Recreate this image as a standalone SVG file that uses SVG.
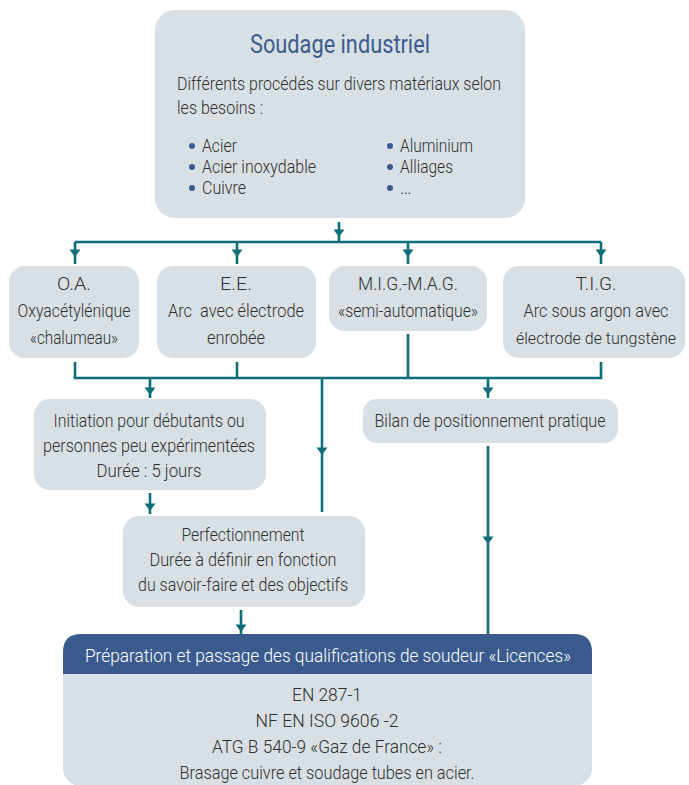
<svg xmlns="http://www.w3.org/2000/svg" width="689" height="785" viewBox="0 0 689 785">
<defs>
<style>
.box{fill:#d8e0e5}
.t{font-family:Roboto,"Liberation Sans",sans-serif;font-weight:300;font-size:18px;fill:#2f2f2f;white-space:pre}
.c{text-anchor:middle}
.title{font-family:Roboto,"Liberation Sans",sans-serif;font-weight:400;font-size:26px;fill:#3d5b8e;text-anchor:middle}
.hdr{fill:#3b5b8e}
.ht{font-family:Roboto,"Liberation Sans",sans-serif;font-weight:300;font-size:18px;fill:#ffffff;text-anchor:middle}
.ln{fill:none;stroke:#0c6e78;stroke-width:2.6;marker-mid:url(#ah)}
.dot{fill:#3d5b8e}
</style>
<marker id="ah" markerUnits="userSpaceOnUse" markerWidth="14" markerHeight="14" refX="0" refY="0" viewBox="-9 -7 10 14" orient="auto">
<path d="M0,0 L-7.5,-5.5 L-7.5,5.5 Z" fill="#0c6e78"/>
</marker>
</defs>

<g id="connectors">
<path class="ln" d="M339 222 V237 V242"/>
<path class="ln" d="M75 242 H601" style="marker-mid:none"/>
<path class="ln" d="M75 242 V257 V264"/>
<path class="ln" d="M237 242 V257 V264"/>
<path class="ln" d="M408 242 V257 V264"/>
<path class="ln" d="M601 242 V257 V264"/>
<path class="ln" d="M75 362 V378 H601 V362" style="marker-mid:none"/>
<path class="ln" d="M237 362 V378" style="marker-mid:none"/>
<path class="ln" d="M408 334 V378" style="marker-mid:none"/>
<path class="ln" d="M150 378 V395 V398"/>
<path class="ln" d="M322 378 V455 V512"/>
<path class="ln" d="M488 378 V395 V398"/>
<path class="ln" d="M150 493 V511 V514"/>
<path class="ln" d="M488 446 V544 V635"/>
<path class="ln" d="M241 610 V632 V634"/>
</g>

<g id="n-soudage">
<rect class="box" x="155" y="10" width="370" height="208" rx="20"/>
<text class="title" x="340" y="53" textLength="180" lengthAdjust="spacingAndGlyphs">Soudage industriel</text>
<text class="t" x="177" y="90" textLength="324" lengthAdjust="spacingAndGlyphs">Différents procédés sur divers matériaux selon</text>
<text class="t" x="177" y="114" textLength="86" lengthAdjust="spacingAndGlyphs">les besoins :</text>
<circle class="dot" cx="192" cy="146" r="3"/>
<circle class="dot" cx="192" cy="167" r="3"/>
<circle class="dot" cx="192" cy="188" r="3"/>
<circle class="dot" cx="390" cy="146" r="3"/>
<circle class="dot" cx="390" cy="167" r="3"/>
<circle class="dot" cx="390" cy="188" r="3"/>
<text class="t" x="202" y="152" textLength="35" lengthAdjust="spacingAndGlyphs">Acier</text>
<text class="t" x="202" y="173" textLength="114" lengthAdjust="spacingAndGlyphs">Acier inoxydable</text>
<text class="t" x="202" y="194" textLength="44" lengthAdjust="spacingAndGlyphs">Cuivre</text>
<text class="t" x="400" y="152" textLength="73" lengthAdjust="spacingAndGlyphs">Aluminium</text>
<text class="t" x="400" y="173" textLength="53" lengthAdjust="spacingAndGlyphs">Alliages</text>
<text class="t" x="400" y="194" textLength="20" lengthAdjust="spacing">…</text>
</g>

<g id="n-oa">
<rect class="box" x="9" y="266" width="130" height="92" rx="16"/>
<text class="t c" x="74" y="290" textLength="34" lengthAdjust="spacingAndGlyphs">O.A.</text>
<text class="t c" x="74" y="317" textLength="113" lengthAdjust="spacingAndGlyphs">Oxyacétylénique</text>
<text class="t c" x="74" y="344" textLength="88" lengthAdjust="spacingAndGlyphs">«chalumeau»</text>
</g>

<g id="n-ee">
<rect class="box" x="157" y="266" width="159" height="92" rx="16"/>
<text class="t c" x="236" y="290" textLength="32" lengthAdjust="spacingAndGlyphs">E.E.</text>
<text class="t c" x="236" y="317" textLength="136" lengthAdjust="spacingAndGlyphs">Arc  avec électrode</text>
<text class="t c" x="236" y="344" textLength="58" lengthAdjust="spacingAndGlyphs">enrobée</text>
</g>

<g id="n-mig">
<rect class="box" x="329" y="266" width="158" height="65" rx="16"/>
<text class="t c" x="408" y="290" textLength="100" lengthAdjust="spacingAndGlyphs">M.I.G.-M.A.G.</text>
<text class="t c" x="408" y="317" textLength="140" lengthAdjust="spacingAndGlyphs">«semi-automatique»</text>
</g>

<g id="n-tig">
<rect class="box" x="503" y="266" width="182" height="92" rx="16"/>
<text class="t c" x="596" y="290" textLength="41" lengthAdjust="spacingAndGlyphs">T.I.G.</text>
<text class="t c" x="596" y="317" textLength="145" lengthAdjust="spacingAndGlyphs">Arc sous argon avec</text>
<text class="t c" x="596" y="344" style="font-size:16.5px" textLength="160" lengthAdjust="spacingAndGlyphs">électrode de tungstène</text>
</g>

<g id="n-initiation">
<rect class="box" x="34" y="399" width="232" height="91" rx="16"/>
<text class="t c" x="149" y="427" textLength="191" lengthAdjust="spacingAndGlyphs">Initiation pour débutants ou</text>
<text class="t c" x="149" y="452" textLength="212" lengthAdjust="spacingAndGlyphs">personnes peu expérimentées</text>
<text class="t c" x="149" y="477" textLength="105" lengthAdjust="spacingAndGlyphs">Durée : 5 jours</text>
</g>

<g id="n-bilan">
<rect class="box" x="363" y="399" width="255" height="44" rx="14"/>
<text class="t c" x="490" y="427" textLength="231" lengthAdjust="spacingAndGlyphs">Bilan de positionnement pratique</text>
</g>

<g id="n-perfectionnement">
<rect class="box" x="123" y="516" width="242" height="91" rx="16"/>
<text class="t c" x="243" y="541" textLength="123" lengthAdjust="spacingAndGlyphs">Perfectionnement</text>
<text class="t c" x="243" y="566" textLength="187" lengthAdjust="spacingAndGlyphs">Durée à définir en fonction</text>
<text class="t c" x="243" y="591" textLength="210" lengthAdjust="spacingAndGlyphs">du savoir-faire et des objectifs</text>
</g>

<g id="n-licences">
<rect class="box" x="63" y="634" width="529" height="152" rx="18"/>
<path class="hdr" d="M63 674 V652 Q63 634 81 634 H574 Q592 634 592 652 V674 Z"/>
<text class="ht" x="328" y="662" textLength="486" lengthAdjust="spacingAndGlyphs">Préparation et passage des qualifications de soudeur «Licences»</text>
<text class="t c" x="327" y="701" textLength="70" lengthAdjust="spacingAndGlyphs">EN 287-1</text>
<text class="t c" x="327" y="727" textLength="143" lengthAdjust="spacingAndGlyphs">NF EN ISO 9606 -2</text>
<text class="t c" x="327" y="753" textLength="230" lengthAdjust="spacingAndGlyphs">ATG B 540-9 «Gaz de France» :</text>
<text class="t c" x="327" y="779" textLength="295" lengthAdjust="spacingAndGlyphs">Brasage cuivre et soudage tubes en acier.</text>
</g>
</svg>
